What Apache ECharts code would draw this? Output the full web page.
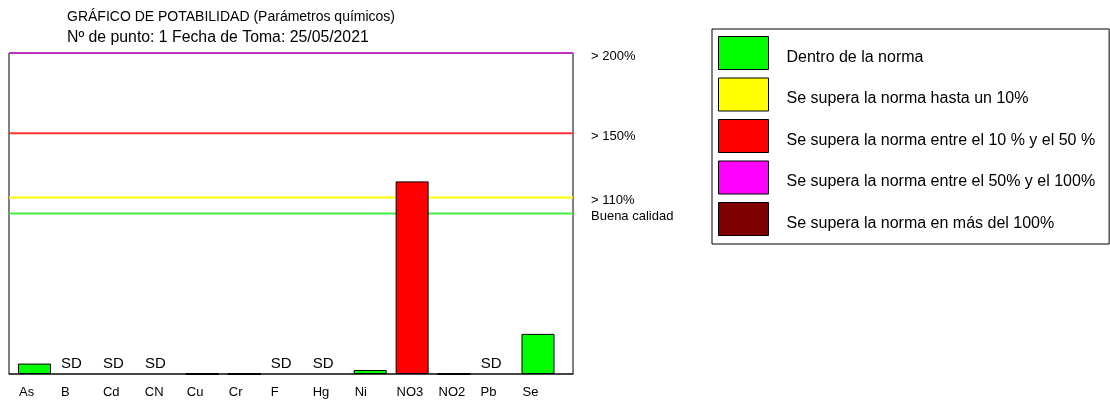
<!DOCTYPE html>
<html><head><meta charset="utf-8">
<script src="https://cdn.jsdelivr.net/npm/echarts@6/dist/echarts.min.js"></script>
<style>html,body{margin:0;padding:0;background:#fff}#c{width:1110px;height:405px}</style>
</head><body><div id="c"></div>
<script>
const titleText = 'GRÁFICO DE POTABILIDAD (Parámetros químicos)';
const subtitleText = 'Nº de punto: 1 Fecha de Toma: 25/05/2021';
const categories = ['As','B','Cd','CN','Cu','Cr','F','Hg','Ni','NO3','NO2','Pb','Se'];
// % respecto a la norma; null = SD (sin datos)
const values = [6.5, null, null, null, 0, 0, null, null, 2.5, 120, 0, null, 25];
const classNames = ['Dentro de la norma','Se supera la norma hasta un 10%','Se supera la norma entre el 10 % y el 50 %','Se supera la norma entre el 50% y el 100%','Se supera la norma en más del 100%'];
const classColors = ['#00ff00','#ffff00','#ff0000','#ff00ff','#800000'];
const classUpper = [100, 110, 150, 200, Infinity];
const thresholdValues = [100, 110, 150, 200];
const thresholdLabels = ['Buena calidad', '> 110%', '> 150%', '> 200%'];
const thresholdColors = ['#44ee44', '#ffff00', '#ff3333', '#c030c0'];
const sdLabel = 'SD';

const FONT = "'Liberation Sans', Arial, sans-serif";
const X_MIN = -0.6077, X_MAX = 12.834;
const labelShift = 0.37;

function classOf(v) { for (let k = 0; k < classUpper.length; k++) if (v <= classUpper[k]) return k; return classUpper.length - 1; }

const chart = echarts.init(document.getElementById('c'), null, {renderer: 'canvas'});

const barSeries = classNames.map((name, k) => ({
  name: name,
  type: 'bar',
  barWidth: 33,
  barGap: '-100%',
  z: 3,
  itemStyle: {color: classColors[k], borderColor: '#000', borderWidth: 1},
  data: values.map((v, i) => (v !== null && classOf(v) === k)
      ? {value: [i, v], itemStyle: {borderWidth: v === 0 ? 2 : 1}} : null).filter(d => d !== null)
}));

const thresholdSeries = thresholdValues.map((t, j) => ({
  name: 'umbral' + j, type: 'line', z: 1, silent: true,
  symbol: 'none', showSymbol: false, clip: false,
  color: thresholdColors[j],
  lineStyle: {color: thresholdColors[j], width: 2, type: 'solid'},
  emphasis: {disabled: true},
  data: [[X_MIN, t], [X_MAX, t]],
  endLabel: {show: true, formatter: thresholdLabels[j], distance: 18, fontSize: 13,
             color: '#000', fontFamily: FONT, offset: [0, 3]}
}));

const option = {
  animation: false,
  textStyle: {fontFamily: FONT},
  title: {
    text: titleText, subtext: subtitleText,
    left: 67, top: 9, padding: 0, itemGap: 5,
    textStyle: {fontSize: 14, fontWeight: 'normal', color: '#000', fontFamily: FONT, lineHeight: 16},
    subtextStyle: {fontSize: 15.8, color: '#000', fontFamily: FONT, lineHeight: 16}
  },
  legend: {
    data: classNames,
    orient: 'vertical',
    left: 712, top: 29,
    padding: [7, 14, 8, 6],
    itemWidth: 50, itemHeight: 33, itemGap: 7.5,
    icon: 'rect',
    borderColor: '#000', borderWidth: 1,
    selectedMode: false,
    itemStyle: {borderColor: '#000', borderWidth: 1},
    formatter: name => '{t|' + name + '}',
    textStyle: {fontSize: 16, color: '#000', fontFamily: FONT,
      rich: {t: {fontSize: 16, color: '#000', fontFamily: FONT, padding: [9, 0, 0, 13]}}}
  },
  grid: {left: 9, top: 53, width: 564, height: 321, show: true, borderColor: '#000', borderWidth: 1, backgroundColor: 'transparent'},
  xAxis: {
    type: 'value', min: X_MIN, max: X_MAX,
    splitLine: {show: false}, axisTick: {show: false},
    axisLine: {show: true, lineStyle: {color: '#333', width: 1.5}},
    axisLabel: {
      customValues: categories.map((c, i) => i - labelShift),
      formatter: v => categories[Math.round(v + labelShift)] || '',
      align: 'left', margin: 12, fontSize: 13, color: '#000', fontFamily: FONT,
      showMinLabel: true, showMaxLabel: true
    }
  },
  yAxis: {type: 'value', min: 0, max: 200, show: false, splitLine: {show: false}},
  series: [
    ...thresholdSeries,
    ...barSeries,
    {
      name: 'sd', type: 'bar', z: 4, silent: true, barWidth: 33, barGap: '-100%',
      itemStyle: {color: 'rgba(0,0,0,0)', borderWidth: 0},
      data: values.map((v, i) => v === null ? [i, 0] : null).filter(d => d !== null),
      label: {show: true, formatter: sdLabel, position: 'top', distance: 3, offset: [-5, 0], fontSize: 15,
              color: '#000', opacity: 1, textBorderWidth: 0, fontFamily: FONT}
    }
  ]
};
chart.setOption(option);
</script>
</body></html>
